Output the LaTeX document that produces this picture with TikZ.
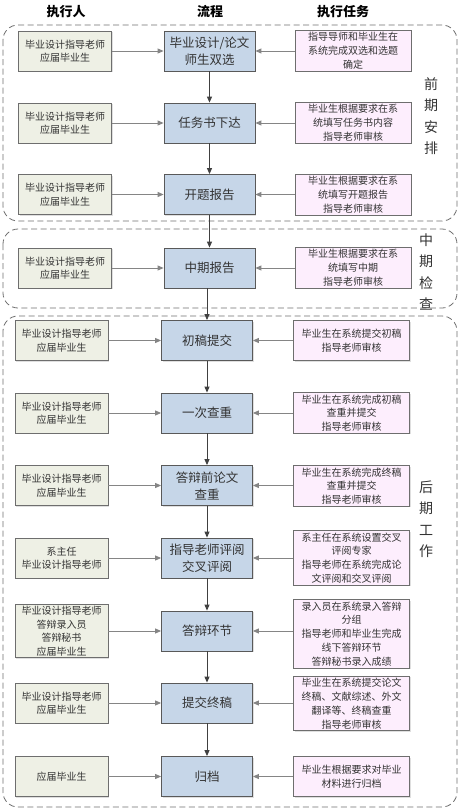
\documentclass[tikz,border=0pt]{standalone}
\usepackage{fontspec}
\setmainfont{Noto Sans CJK SC}
\usetikzlibrary{arrows.meta,shadows}
\XeTeXlinebreaklocale "zh"
\definecolor{lfill}{HTML}{EEF0E5}
\definecolor{cfill}{HTML}{C6D6E8}
\definecolor{rfill}{HTML}{FDEEFD}
\definecolor{bord}{HTML}{6E6E6E}
\definecolor{txt}{HTML}{333333}
\definecolor{harr}{HTML}{858585}
\definecolor{varr}{HTML}{404040}
\definecolor{dashc}{HTML}{707070}
\tikzset{
  basebox/.style={draw=bord, line width=0.8pt, align=center, text=txt, inner xsep=2pt, inner ysep=2pt,
    drop shadow={shadow xshift=1pt, shadow yshift=-1pt, opacity=0.25}},
  leftbox/.style={basebox, fill=lfill, minimum width=93pt, minimum height=40pt, font=\fontsize{10}{13.5}\selectfont},
  centbox/.style={basebox, fill=cfill, draw=black!65, minimum width=91pt, minimum height=40pt, font=\fontsize{12.5}{17}\selectfont},
  rightbox/.style={basebox, fill=rfill, minimum width=116pt, minimum height=40pt, font=\fontsize{10}{13.8}\selectfont},
  harrow/.style={draw=harr, line width=0.9pt, -{Triangle[length=6pt,width=5pt]}, shorten >=0pt},
  varrow/.style={draw=varr, line width=0.9pt, -{Triangle[length=6pt,width=5pt]}},
  phase/.style={draw=dashc, line width=0.8pt, dash pattern=on 6pt off 3.5pt, rounded corners=15pt},
  hdr/.style={font=\fontsize{13}{15}\selectfont\bfseries},
  side/.style={font=\fontsize{14}{21.5}\selectfont, align=center, text=txt}
}
\begin{document}
\begin{tikzpicture}[x=1pt,y=-1pt]
\useasboundingbox (0,0) rectangle (461,811);
\fill[white] (0,0) rectangle (461,811);
% phase frames
\draw[phase] (3,25) rectangle (457,221);
\draw[phase] (3,229) rectangle (457,308);
\draw[phase] (3,316) rectangle (457,807);
% headers
\node[hdr] (h1) at (66,12) {执行人};
\node[hdr] (h2) at (210,12) {流程};
\node[hdr] (h3) at (343,12) {执行任务};
% side labels
\node[side] (s1) at (431,116) {前\\期\\安\\排};
\node[side] (s2) at (426,272) {中\\期\\检\\查};
\node[side] (s3) at (426,519) {后\\期\\工\\作};
% row 1
\node[centbox] (c1) at (209.5,51) {毕业设计/论文\\师生双选};
\node[leftbox] (l1) at (65,51) {毕业设计指导老师\\应届毕业生};
\node[rightbox] (r1) at (353,51) {指导导师和毕业生在\\系统完成双选和选题\\确定};
% row 2
\node[centbox] (c2) at (209.5,123) {任务书下达};
\node[leftbox] (l2) at (65,123) {毕业设计指导老师\\应届毕业生};
\node[rightbox] (r2) at (353,123) {毕业生根据要求在系\\统填写任务书内容\\指导老师审核};
% row 3
\node[centbox] (c3) at (209.5,194.5) {开题报告};
\node[leftbox] (l3) at (65,194.5) {毕业设计指导老师\\应届毕业生};
\node[rightbox] (r3) at (353,194.5) {毕业生根据要求在系\\统填写开题报告\\指导老师审核};
% row 4
\node[centbox] (c4) at (209.5,268) {中期报告};
\node[leftbox] (l4) at (65,268) {毕业设计指导老师\\应届毕业生};
\node[rightbox] (r4) at (353,268) {毕业生根据要求在系\\统填写中期\\指导老师审核};
% row 5
\node[centbox] (c5) at (207,340.5) {初稿提交};
\node[leftbox] (l5) at (61.5,340.5) {毕业设计指导老师\\应届毕业生};
\node[rightbox] (r5) at (351.5,340.5) {毕业生在系统提交初稿\\指导老师审核};
% row 6
\node[centbox] (c6) at (207,413) {一次查重};
\node[leftbox] (l6) at (61.5,413) {毕业设计指导老师\\应届毕业生};
\node[rightbox] (r6) at (351.5,413) {毕业生在系统完成初稿\\查重并提交\\指导老师审核};
% row 7
\node[centbox] (c7) at (207,485.5) {答辩前论文\\查重};
\node[leftbox] (l7) at (61.5,485.5) {毕业设计指导老师\\应届毕业生};
\node[rightbox] (r7) at (351.5,486) {毕业生在系统完成终稿\\查重并提交\\指导老师审核};
% row 8
\node[centbox] (c8) at (207,558) {指导老师评阅\\交叉评阅};
\node[leftbox] (l8) at (61.5,558) {系主任\\毕业设计指导老师};
\node[rightbox] (r8) at (351.5,558) {系主任在系统设置交叉\\评阅专家\\指导老师在系统完成论\\文评阅和交叉评阅};
% row 9
\node[centbox] (c9) at (207,631) {答辩环节};
\node[leftbox] (l9) at (61.5,631) {毕业设计指导老师\\答辩录入员\\答辩秘书\\应届毕业生};
\node[rightbox] (r9) at (351.5,634) {录入员在系统录入答辩\\分组\\指导老师和毕业生完成\\线下答辩环节\\答辩秘书录入成绩};
% row 10
\node[centbox] (c10) at (207,703) {提交终稿};
\node[leftbox] (l10) at (61.5,703) {毕业设计指导老师\\应届毕业生};
\node[rightbox] (r10) at (351.5,703.5) {毕业生在系统提交论文\\终稿、文献综述、外文\\翻译等、终稿查重\\指导老师审核};
% row 11
\node[centbox] (c11) at (207,776.5) {归档};
\node[leftbox] (l11) at (61.5,776.5) {应届毕业生};
\node[rightbox] (r11) at (351.5,776.5) {毕业生根据要求对毕业\\材料进行归档};
% horizontal arrows
\foreach \i in {1,...,11}{
  \draw[harrow] (l\i.east |- c\i) -- (c\i.west);
  \draw[harrow] (r\i.west |- c\i) -- (c\i.east);
}
% vertical arrows
\foreach \a/\b in {1/2,2/3,3/4,5/6,6/7,7/8,8/9,9/10,10/11}{
  \draw[varrow] (c\a.south) -- (c\b.north);
}
\draw[varrow] (c4.south -| c5.north) -- (c5.north);
\end{tikzpicture}
\end{document}
